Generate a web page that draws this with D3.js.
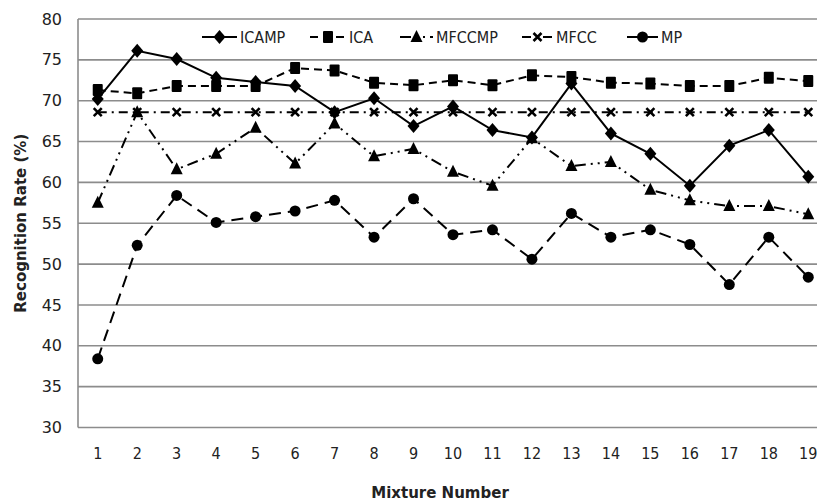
<!DOCTYPE html>
<html>
<head>
  <meta charset="utf-8">
  <title>Recognition Rate by Mixture</title>
  <script src="https://cdnjs.cloudflare.com/ajax/libs/d3/7.8.5/d3.min.js"></script>
  <style>
    body { margin: 0; background: #fff; }
    svg { display: block; }
    .tick-y { font-family: "DejaVu Sans", Verdana, sans-serif; font-size: 16px; fill: #222; }
    .tick-x, .legend-text { font-family: "Liberation Sans Narrow", "DejaVu Sans Condensed", "DejaVu Sans", sans-serif; font-stretch: condensed; font-size: 16px; fill: #222; }
    .axis-title { font-family: "DejaVu Sans", Verdana, sans-serif; font-size: 15px; font-weight: bold; fill: #222; }
  </style>
</head>
<body>
  <div id="chart"></div>
  <script>
    // Chart data
    const mixtures = d3.range(1, 20);
    const icamp  = [70.2, 76.1, 75.1, 72.8, 72.3, 71.8, 68.6, 70.3, 66.9, 69.3, 66.4, 65.5, 72.1, 66.0, 63.5, 59.6, 64.5, 66.4, 60.7];
    const ica    = [71.3, 70.9, 71.8, 71.8, 71.8, 74.0, 73.7, 72.2, 71.9, 72.5, 71.9, 73.1, 72.9, 72.2, 72.1, 71.8, 71.8, 72.8, 72.4];
    const mfccmp = [57.5, 68.6, 61.6, 63.5, 66.7, 62.3, 67.2, 63.2, 64.1, 61.3, 59.6, 65.4, 62.0, 62.5, 59.1, 57.8, 57.1, 57.1, 56.1];
    const mfcc   = [68.6, 68.6, 68.6, 68.6, 68.6, 68.6, 68.6, 68.6, 68.6, 68.6, 68.6, 68.6, 68.6, 68.6, 68.6, 68.6, 68.6, 68.6, 68.6];
    const mp     = [38.4, 52.3, 58.4, 55.1, 55.8, 56.5, 57.8, 53.3, 58.0, 53.6, 54.2, 50.6, 56.2, 53.3, 54.2, 52.4, 47.5, 53.3, 48.4];
    const yTicks = [30, 35, 40, 45, 50, 55, 60, 65, 70, 75, 80];

    const series = [
      { name: "ICAMP",  values: icamp,  dash: null,            marker: "diamond" },
      { name: "ICA",    values: ica,    dash: "8,5",           marker: "square" },
      { name: "MFCCMP", values: mfccmp, dash: "11,5,2,5,2,5",  marker: "triangle" },
      { name: "MFCC",   values: mfcc,   dash: "9,5,2,5",       marker: "cross" },
      { name: "MP",     values: mp,     dash: "12,7",          marker: "circle" }
    ];

    const width = 817, height = 504;
    const margin = { left: 78, top: 19, right: -11, bottom: 76 };

    const svg = d3.select("#chart").append("svg")
      .attr("width", width)
      .attr("height", height);

    const x = d3.scaleBand()
      .domain(mixtures)
      .range([margin.left, width - margin.right]);

    const y = d3.scaleLinear()
      .domain([30, 80])
      .range([height - margin.bottom - 0.5, margin.top]);

    const cx = d => x(d) + x.bandwidth() / 2;

    // gridlines
    svg.append("g").selectAll("line")
      .data(yTicks)
      .join("line")
      .attr("x1", margin.left)
      .attr("x2", width - margin.right)
      .attr("y1", d => y(d))
      .attr("y2", d => y(d))
      .attr("stroke", "#8c8c8c")
      .attr("stroke-width", 1.6);

    // left axis line
    svg.append("line")
      .attr("x1", margin.left).attr("x2", margin.left)
      .attr("y1", y(80)).attr("y2", y(30))
      .attr("stroke", "#8c8c8c")
      .attr("stroke-width", 1.6);

    // y tick labels
    svg.append("g").selectAll("text")
      .data(yTicks)
      .join("text")
      .attr("class", "tick-y")
      .attr("x", 62)
      .attr("y", d => y(d))
      .attr("dy", "0.35em")
      .attr("text-anchor", "end")
      .text(d => d);

    // x tick labels
    svg.append("g").selectAll("text")
      .data(mixtures)
      .join("text")
      .attr("class", "tick-x")
      .attr("x", d => cx(d))
      .attr("y", 459)
      .attr("text-anchor", "middle")
      .text(d => d);

    // axis titles
    svg.append("text")
      .attr("class", "axis-title")
      .attr("x", 440)
      .attr("y", 498)
      .attr("text-anchor", "middle")
      .text("Mixture Number");

    svg.append("text")
      .attr("class", "axis-title")
      .attr("transform", "translate(26," + (y(55)) + ") rotate(-90)")
      .attr("text-anchor", "middle")
      .text("Recognition Rate (%)");

    // marker drawing
    function drawMarker(sel, type) {
      if (type === "diamond") {
        sel.append("path").attr("d", "M0,-7L6,0L0,7L-6,0Z").attr("fill", "#000");
      } else if (type === "square") {
        sel.append("rect").attr("x", -5).attr("y", -6).attr("width", 10).attr("height", 12)
          .attr("rx", 1).attr("fill", "#000");
      } else if (type === "triangle") {
        sel.append("path").attr("d", "M0,-7L6,5L-6,5Z").attr("fill", "#000");
      } else if (type === "cross") {
        sel.append("path").attr("d", "M-4,-4L4,4M-4,4L4,-4")
          .attr("stroke", "#000").attr("stroke-width", 2.6).attr("fill", "none");
      } else if (type === "circle") {
        sel.append("circle").attr("r", 5.5).attr("fill", "#000");
      }
    }

    const line = d3.line()
      .x((d, i) => cx(mixtures[i]))
      .y(d => y(d));

    const plot = svg.append("g");

    series.forEach(s => {
      plot.append("path")
        .datum(s.values)
        .attr("d", line)
        .attr("fill", "none")
        .attr("stroke", "#000")
        .attr("stroke-width", 2)
        .attr("stroke-dasharray", s.dash);
    });

    series.forEach(s => {
      plot.append("g").selectAll("g")
        .data(s.values)
        .join("g")
        .attr("transform", (d, i) => "translate(" + cx(mixtures[i]) + "," + y(d) + ")")
        .each(function() { drawMarker(d3.select(this), s.marker); });
    });

    // legend
    const legendX = [202, 310, 400, 522, 627];
    const legendW = [35, 36, 33, 31, 31];
    const legend = svg.append("g");
    series.forEach((s, i) => {
      const g = legend.append("g").attr("transform", "translate(" + legendX[i] + ",37)");
      g.append("line")
        .attr("x1", 0).attr("x2", legendW[i])
        .attr("y1", 0).attr("y2", 0)
        .attr("stroke", "#000")
        .attr("stroke-width", 2)
        .attr("stroke-dasharray", s.dash);
      const m = g.append("g").attr("transform", "translate(" + (legendW[i] / 2) + ",0)");
      drawMarker(m, s.marker);
      g.append("text")
        .attr("class", "legend-text")
        .attr("x", legendW[i] + 3)
        .attr("y", 0)
        .attr("dy", "0.35em")
        .text(s.name);
    });
  </script>
</body>
</html>
